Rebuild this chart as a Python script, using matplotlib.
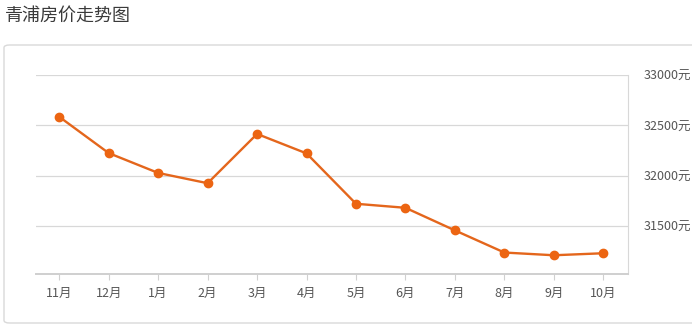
import matplotlib.pyplot as plt
from matplotlib.patches import FancyBboxPatch

plt.rcParams['font.family'] = ['Noto Sans CJK SC', 'DejaVu Sans']

# data
months = ['11月', '12月', '1月', '2月', '3月', '4月', '5月', '6月', '7月', '8月', '9月', '10月']
prices = [32585, 32225, 32028, 31926, 32415, 32222, 31722, 31682, 31458, 31238, 31211, 31231]
y_ticks = [31500, 32000, 32500, 33000]
y_labels = [f'{v}元' for v in y_ticks]
title = '青浦房价走势图'

fig = plt.figure(figsize=(6.92, 3.29), dpi=100)

# outer rounded box
box = FancyBboxPatch((4 / 692, 6 / 329), 700 / 692, 278 / 329,
                     boxstyle='round,pad=0,rounding_size=0.008',
                     transform=fig.transFigure, facecolor='none',
                     edgecolor='#d9d9d9', linewidth=1.0, zorder=-1)
fig.patches.append(box)

fig.text(5 / 692, 1 - 16 / 329, title, fontsize=13, color='#3a3a3a',
         ha='left', va='center')

ax = fig.add_axes([36 / 692, 55 / 329, 592 / 692, 199 / 329])
ax.patch.set_alpha(0)
x = list(range(len(months)))
ax.plot(x, prices, color='#e4661c', linewidth=1.7, marker='o',
        markersize=6, markerfacecolor='#ec6512', markeredgecolor='#ec6512',
        zorder=3)

ax.set_xlim(-0.47, len(months) - 0.5)
ax.set_ylim(31025, 33000)
ax.set_xticks(x)
ax.set_xticklabels(months)
ax.set_yticks(y_ticks)
ax.set_yticklabels(y_labels)
ax.yaxis.tick_right()
ax.grid(axis='y', color='#d8d8d8', linewidth=0.9)
ax.set_axisbelow(True)

for s in ['top', 'left']:
    ax.spines[s].set_visible(False)
ax.spines['right'].set_color('#d8d8d8')
ax.spines['bottom'].set_color('#cfcfcf')
ax.spines['bottom'].set_linewidth(1.4)

ax.tick_params(axis='x', colors='#555555', labelsize=9, length=4,
               width=0.8, pad=5)
ax.tick_params(axis='x', color='#d0d0d0')
ax.tick_params(axis='y', colors='#555555', labelsize=9, length=0, pad=11)

fig.savefig('out.png', dpi=100)
